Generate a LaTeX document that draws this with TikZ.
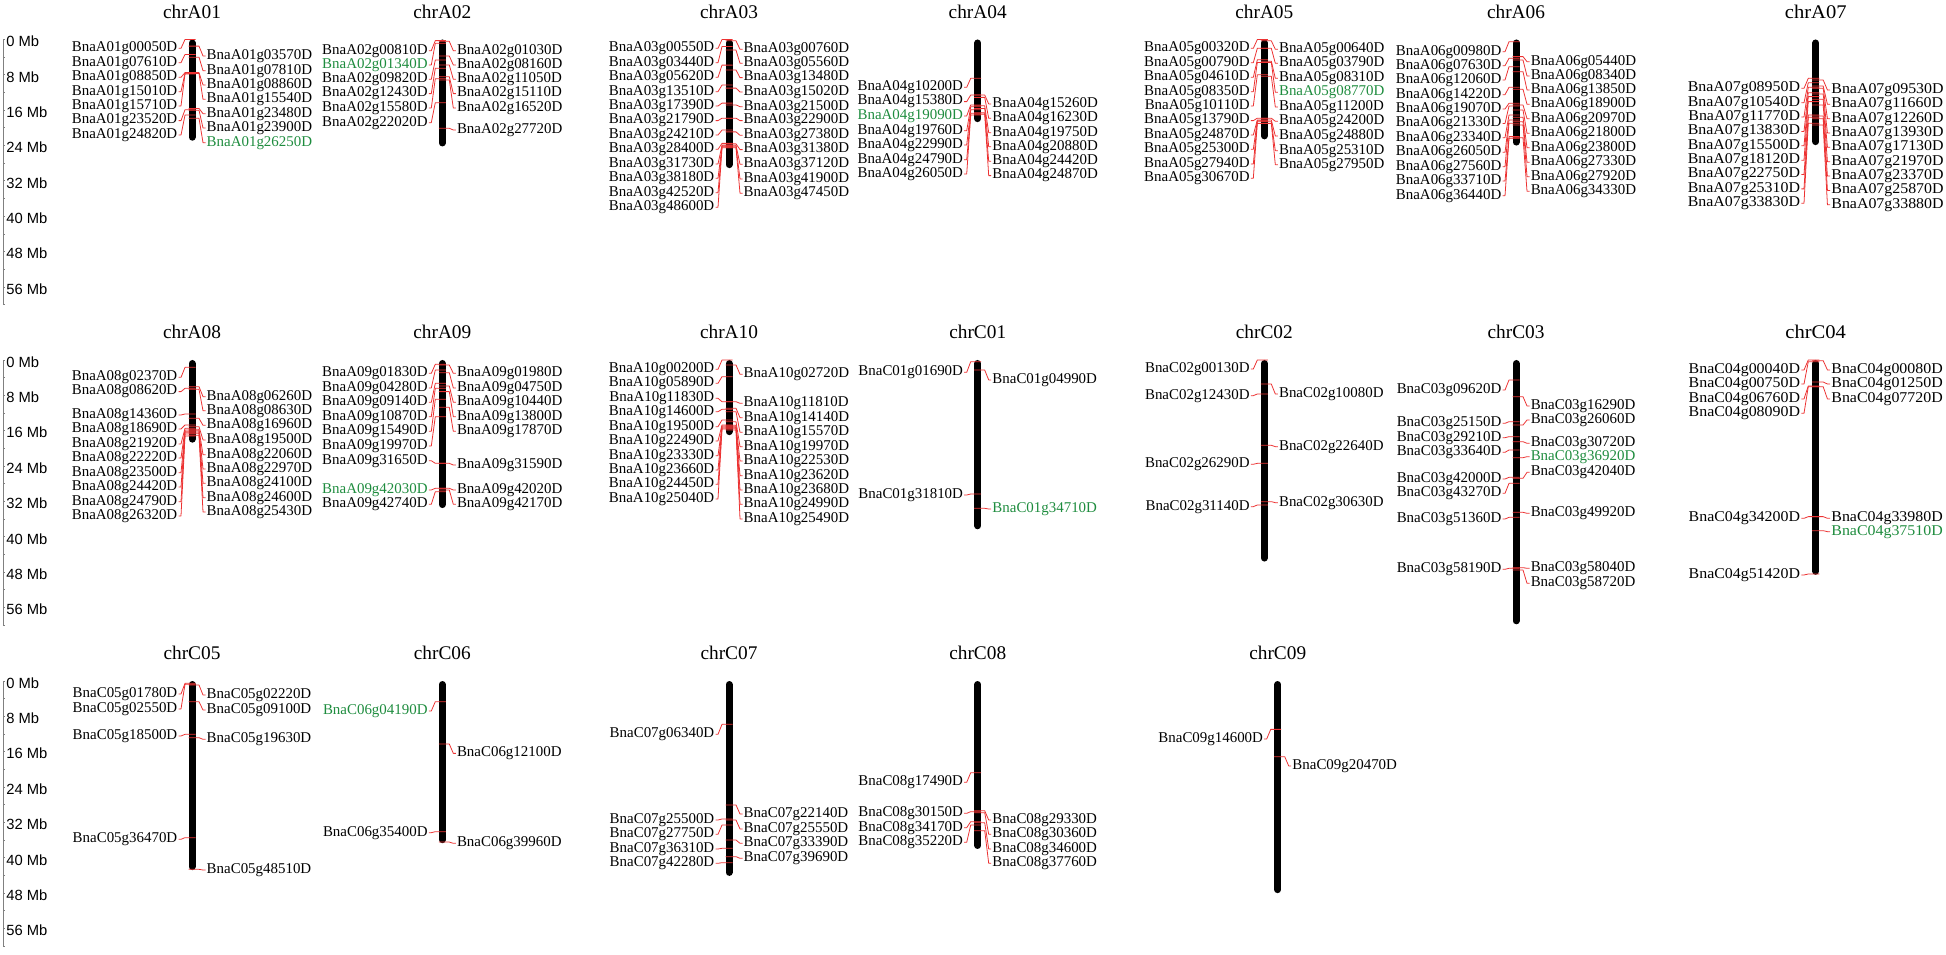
\documentclass[tikz,border=0pt]{standalone}
\usepackage{fontspec}
\setmainfont{Liberation Serif}
\newfontfamily\axisfont{Liberation Sans}

\definecolor{linkred}{RGB}{236,50,50}
\definecolor{hl}{RGB}{30,140,62}

\newcommand{\mbpx}{4.42}% pixels per Mb
% #1 bar x, #2 row top, #3 length (Mb), #4 chromosome, #5 left genes, #6 right genes
% gene entry: marker Mb / label Mb / gene number / colour
\newcommand{\chromosome}[6]{%
  \node[chrtitle] (chr#4) at (#1,#2-28) {chr#4};
  \draw[bar] (#1,#2+3.5) -- (#1,#2+#3*\mbpx-3.5);
  \foreach \mk/\lab/\gid/\col in {#5} {
    \coordinate (mBna#4g\gid) at (#1+3.5,#2+\mk*\mbpx);
    \node[gene, anchor=east, text=\col] (Bna#4g\gid) at (#1-13.5,#2+\lab*\mbpx) {Bna#4g\gid D};
    \draw[link] (mBna#4g\gid) -- ++(-10.5,0) -- (#1-11,#2+\lab*\mbpx) -- (Bna#4g\gid.east);
  }
  \foreach \mk/\lab/\gid/\col in {#6} {
    \coordinate (mBna#4g\gid) at (#1-3.5,#2+\mk*\mbpx);
    \node[gene, anchor=west, text=\col] (Bna#4g\gid) at (#1+13.5,#2+\lab*\mbpx) {Bna#4g\gid D};
    \draw[link] (mBna#4g\gid) -- ++(10.5,0) -- (#1+11,#2+\lab*\mbpx) -- (Bna#4g\gid.west);
  }%
}

\begin{document}
\begin{tikzpicture}[x=0.02cm, y=-0.02cm,
  chrtitle/.style={inner sep=0pt, font=\fontsize{11}{13}\selectfont},
  gene/.style={inner sep=0.5pt, font=\fontsize{8.5}{9}\selectfont},
  bar/.style={line width=0.14cm, line cap=round},
  link/.style={draw=linkred, line width=0.45pt, line join=round},
  axis/.style={draw=gray, line width=0.5pt},
  mb/.style={anchor=west, inner sep=0pt, font=\axisfont\fontsize{8.4}{10}\selectfont}]
\useasboundingbox (0,0) rectangle (1946,955);

% scale bars
\foreach \r/\ty in {1/39.5, 2/360, 3/681} {
  \coordinate (axtop\r) at (3,\ty);
  \coordinate (axbot\r) at (3,\ty+60*\mbpx);
  \draw[axis] (axtop\r) -- (axbot\r);
  \foreach \t in {0,4,...,60}
    \draw[axis] (3,\ty+\t*\mbpx) -- ++(2,0);
  \foreach \t in {0,8,...,56}
    \node[mb] (mb\r-\t) at (6,\ty+\t*\mbpx+2) {\t\ Mb};
}

% row 1
\chromosome{192}{39.5}{22.9}{A01}
  {0/2.0/00050/black, 3.4/5.24/07610/black, 7.5/8.56/08850/black, 7.65/11.8/15010/black,
   7.8/15.04/15710/black, 15.9/18.36/23520/black, 17.1/21.61/24820/black}
  {1.5/3.73/03570/black, 4.0/7.05/07810/black, 7.5/10.29/08860/black, 7.7/13.54/15540/black,
   15.6/16.78/23480/black, 16.0/20.02/23900/black, 17.8/23.34/26250/hl}
\chromosome{442.3}{39.5}{24.2}{A02}
  {0.26/2.53/00810/black, 0.87/5.77/01340/hl, 4.64/9.01/09820/black, 6.52/12.25/12430/black,
   8.86/15.5/15580/black, 14.29/18.82/22020/black}
  {0.41/2.53/01030/black, 3.73/5.77/08160/black, 5.77/9.01/11050/black, 8.41/12.25/15110/black,
   9.16/15.5/16520/black, 20.1/20.47/27720/black}
\chromosome{729}{39.5}{29.1}{A03}
  {0/2.0/00550/black, 1.6/5.24/03440/black, 5.8/8.56/05620/black, 10.3/11.8/13510/black,
   14.4/15.04/17390/black, 17.8/18.36/21790/black, 20.5/21.61/24210/black, 23.5/24.85/28400/black,
   23.9/28.17/31730/black, 24.1/31.41/38180/black, 24.25/34.65/42520/black, 24.5/37.97/48600/black}
  {0.3/2.22/00760/black, 2.4/5.39/05560/black, 6.9/8.63/13480/black, 11.0/11.88/15020/black,
   14.8/15.2/21500/black, 17.8/18.36/22900/black, 20.9/21.68/27380/black, 23.6/24.92/31380/black,
   23.9/28.24/37120/black, 24.25/31.56/41900/black, 24.5/34.8/47450/black}
\chromosome{977.7}{39.5}{18.7}{A04}
  {8.79/10.82/10200/black, 12.56/14.06/15380/black, 14.8/17.31/19090/hl, 15.2/20.63/19760/black,
   15.9/23.87/22990/black, 16.7/27.19/24790/black, 17.1/30.43/26050/black}
  {12.56/14.59/15260/black, 13.1/17.84/16230/black, 15.0/21.08/19750/black, 15.6/24.25/20880/black,
   16.6/27.56/24420/black, 16.9/30.8/24870/black}
\chromosome{1264.3}{39.5}{22.6}{A05}
  {0/2.0/00320/black, 2.0/5.24/00790/black, 4.6/8.56/04610/black, 5.2/11.8/08350/black,
   8.0/15.04/10110/black, 17.8/18.36/13790/black, 18.2/21.61/24870/black, 18.4/24.85/25300/black,
   18.6/28.17/27940/black, 19.0/31.41/30670/black}
  {0.3/2.22/00640/black, 2.0/5.39/03790/black, 4.9/8.78/08310/black, 5.2/11.95/08770/hl,
   8.3/15.27/11200/black, 17.8/18.51/24200/black, 18.2/21.83/24880/black, 18.6/25.15/25310/black,
   19.0/28.32/27950/black}
\chromosome{1516}{39.5}{24}{A06}
  {0.49/2.75/00980/black, 4.26/5.92/07630/black, 6.15/9.16/12060/black, 10.82/12.48/14220/black,
   14.44/15.72/19070/black, 15.04/19.0/21330/black, 17.08/22.21/23340/black, 18.21/25.53/26050/black,
   18.97/28.77/27560/black, 21.98/32.01/33710/black, 22.36/35.33/36440/black}
  {3.88/5.02/05440/black, 4.64/8.26/08340/black, 7.28/11.43/13850/black, 11.27/14.67/18900/black,
   14.82/17.91/20970/black, 15.95/21.23/21800/black, 17.61/24.47/23800/black, 18.59/27.79/27330/black,
   19.34/31.03/27920/black, 22.21/34.35/34330/black}

% last column is drawn a little wider
\begin{scope}[shift={(1815.7,0)}, xscale=1.065, transform shape]
\chromosome{0}{39.5}{23.9}{A07}
  {8.79/11.05/08950/black, 9.77/14.3/10540/black, 10.82/17.55/11770/black, 12.03/20.8/13830/black,
   12.93/24.05/15500/black, 14.06/27.3/18120/black, 17.08/30.55/22750/black, 17.61/33.8/25310/black,
   18.97/37.05/33830/black}
  {9.16/11.43/09530/black, 10.52/14.67/11660/black, 11.05/17.91/12260/black, 12.33/21.16/13930/black,
   13.54/24.4/17130/black, 14.82/27.65/21970/black, 17.31/30.9/23370/black, 17.91/34.15/25870/black,
   19.34/37.4/33880/black}
\chromosome{0}{360}{48.6}{C04}
  {0/2.26/00040/black, 0.4/5.43/00750/black, 5.88/8.82/06760/black, 6.03/12.07/08090/black,
   35.44/35.82/34200/black, 48.42/48.64/51420/black}
  {0.15/2.26/00080/black, 4.98/5.43/01250/black, 6.03/8.82/07720/black, 35.44/35.82/33980/black,
   38.61/38.84/37510/hl}
\end{scope}

% row 2
\chromosome{192}{360}{18.7}{A08}
  {1.66/3.92/02370/black, 6.41/7.16/08620/black, 12.22/12.44/14360/black, 14.71/15.61/18690/black,
   15.46/19.0/21920/black, 15.84/22.17/22220/black, 16.14/25.49/23500/black, 16.44/28.73/24420/black,
   16.74/32.05/24790/black, 17.19/35.29/26320/black}
  {6.03/8.3/06260/black, 6.64/11.46/08630/black, 13.2/14.78/16960/black, 15.08/18.1/19500/black,
   15.69/21.42/22060/black, 15.99/24.66/22970/black, 16.29/27.9/24100/black, 16.59/31.15/24600/black,
   17.04/34.39/25430/black}
\chromosome{442.3}{360}{33.5}{A09}
  {0.98/3.02/01830/black, 2.26/6.33/04280/black, 5.28/9.58/09140/black, 6.41/12.82/10870/black,
   8.9/16.14/15490/black, 12.82/19.46/19970/black, 23.38/22.78/31650/black, 29.03/29.41/42030/hl,
   29.79/32.65/42740/black}
  {1.13/3.02/01980/black, 2.87/6.33/04750/black, 5.88/9.58/10440/black, 7.16/12.82/13800/black,
   10.71/16.14/17870/black, 23.38/23.76/31590/black, 29.03/29.41/42020/black, 29.41/32.65/42170/black}
\chromosome{729}{360}{17}{A10}
  {0/2.11/00200/black, 3.77/5.28/05890/black, 9.43/8.67/11830/black, 11.16/11.69/14600/black,
   13.57/15.08/19500/black, 14.71/18.33/22490/black, 14.93/21.64/23330/black, 15.16/24.89/23660/black,
   15.38/28.13/24450/black, 15.61/31.45/25040/black}
  {1.13/3.24/02720/black, 9.43/9.8/11810/black, 10.94/13.05/14140/black, 11.69/16.37/15570/black,
   13.95/19.61/19970/black, 14.78/22.85/22530/black, 15.08/26.17/23620/black, 15.23/29.41/23680/black,
   15.54/32.65/24990/black, 15.84/35.97/25490/black}
\chromosome{977.7}{360}{38.3}{C01}
  {0.38/2.79/01690/black, 30.32/30.54/31810/black}
  {2.26/4.52/04990/black, 33.56/33.71/34710/hl}
\chromosome{1264.3}{360}{45.6}{C02}
  {0/2.04/00130/black, 7.69/8.07/12430/black, 23.38/23.6/26290/black, 32.81/33.18/31140/black}
  {5.43/7.69/10080/black, 19.31/19.61/22640/black, 32.05/32.28/30630/black}
\chromosome{1516}{360}{59.8}{C03}
  {4.52/6.79/09620/black, 13.95/14.33/25150/black, 17.35/17.57/29210/black, 20.36/20.89/33640/black,
   26.55/26.92/42000/black, 27.9/30.17/43270/black, 35.6/35.97/51360/black, 47.13/47.36/58190/black}
  {8.3/10.41/16290/black, 14.71/13.57/26060/black, 18.48/18.85/30720/black, 22.1/21.87/36920/hl,
   26.77/25.41/42040/black, 34.46/34.69/49920/black, 46.98/47.13/58040/black, 47.51/50.53/58720/black}

% row 3
\chromosome{192}{681}{42.8}{C05}
  {0.53/2.94/01780/black, 0.75/6.33/02550/black, 12.07/12.44/18500/black, 35.44/35.82/36470/black}
  {0.9/3.17/02220/black, 4.68/6.56/09100/black, 12.82/13.2/19630/black, 42.61/42.76/48510/black}
\chromosome{442.3}{681}{36.7}{C06}
  {4.68/6.79/04190/hl, 34.09/34.31/35400/black}
  {14.25/16.37/12100/black, 36.43/36.73/39960/black}
\chromosome{729}{681}{44.1}{C07}
  {9.8/12.07/06340/black, 31.22/31.45/25500/black, 32.58/34.69/27750/black, 37.86/38.01/36310/black,
   41.1/41.25/42280/black}
  {28.05/30.09/22140/black, 31.45/33.48/25550/black, 35.97/36.73/33390/black, 39.74/40.12/39690/black}
\chromosome{977.7}{681}{38}{C08}
  {20.74/22.93/17490/black, 29.56/29.94/30150/black, 31.83/33.18/34170/black, 32.58/36.5/35220/black}
  {29.34/31.45/29330/black, 29.79/34.69/30360/black, 32.05/38.01/34600/black, 33.86/41.25/37760/black}
\chromosome{1277.7}{681}{48}{C09}
  {10.94/13.12/14600/black}
  {17.12/19.23/20470/black}
\end{tikzpicture}
\end{document}
